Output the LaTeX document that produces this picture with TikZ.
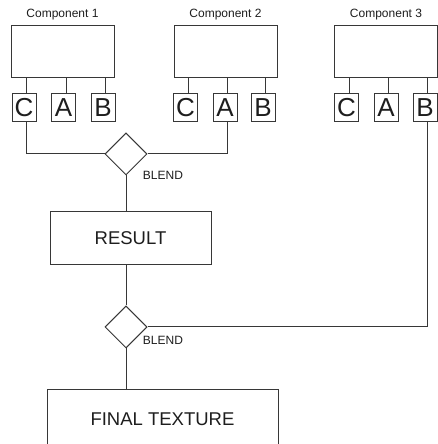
\documentclass[tikz,border=0pt]{standalone}
\usepackage{fontspec}
\setmainfont{Liberation Sans}
\usetikzlibrary{shapes.geometric}
\definecolor{lncol}{RGB}{55,55,55}
\definecolor{txtcol}{RGB}{30,30,30}
\tikzset{
  bigbox/.style={draw=lncol, line width=1pt, rectangle, minimum width=103pt, minimum height=52pt, inner sep=0pt},
  portbox/.style={draw=lncol, line width=1pt, rectangle, minimum width=24pt, minimum height=28pt, inner sep=0pt, font=\fontsize{26}{26}\selectfont, text=txtcol},
  blendbox/.style={draw=lncol, line width=1pt, diamond, minimum width=42pt, minimum height=42pt, inner sep=0pt},
  resbox/.style={draw=lncol, line width=1pt, rectangle, inner sep=0pt, font=\fontsize{18.5}{18.5}\selectfont, text=txtcol},
  lbl/.style={inner sep=0pt, font=\fontsize{12}{12}\selectfont, text=txtcol},
  blbl/.style={inner sep=0pt, font=\fontsize{12}{12}\selectfont, text=txtcol},
  wire/.style={draw=lncol, line width=1pt},
  tick/.style={draw=lncol, line width=1pt}
}
\begin{document}
\begin{tikzpicture}[x=1pt,y=1pt]
\useasboundingbox (0,0) rectangle (438,444);
\clip (0,0) rectangle (438,444);
\fill[white] (0,0) rectangle (438,444);
\node[bigbox] (comp1) at (62.5,392) {};
\node[bigbox] (comp2) at (225.5,392) {};
\node[bigbox] (comp3) at (386,392) {};
\node[lbl] (l1) at (62.5,429) {Component 1};
\node[lbl] (l2) at (225.5,429) {Component 2};
\node[lbl] (l3) at (386,429) {Component 3};
\node[portbox] (c1) at (24,336) {C};
\node[portbox] (a1) at (63.5,336) {A};
\node[portbox] (b1) at (103,336) {B};
\node[portbox] (c2) at (185.5,336) {C};
\node[portbox] (a2) at (225,336) {A};
\node[portbox] (b2) at (263,336) {B};
\node[portbox] (c3) at (346.5,336) {C};
\node[portbox] (a3) at (386,336) {A};
\node[portbox] (b3) at (425,336) {B};
\foreach \pp/\cc in {c1/comp1,a1/comp1,b1/comp1,c2/comp2,a2/comp2,b2/comp2,c3/comp3,a3/comp3,b3/comp3}{
  \draw[tick] ([xshift=2.5pt]\pp.north) -- ([xshift=2.5pt]\pp.north |- \cc.south);
}
\node[blendbox] (d1) at (126,290) {};
\node[blbl] (bl1) at (163,269) {BLEND};
\node[resbox, minimum width=161pt, minimum height=53pt] (res) at (130.5,205.5) {RESULT};
\node[blendbox] (d2) at (126,117) {};
\node[blbl] (bl2) at (163,104) {BLEND};
\node[resbox, minimum width=231pt, minimum height=58pt] (fin) at (162.5,25) {FINAL TEXTURE};
\draw[wire] ([xshift=2.5pt]c1.south) |- (d1.west);
\draw[wire] ([xshift=2.5pt]a2.south) |- (d1.east);
\draw[wire] (d1.south) -- (d1.south |- res.north);
\draw[wire] (d2.north |- res.south) -- (d2.north);
\draw[wire] ([xshift=2.5pt]b3.south) |- (d2.east);
\draw[wire] (d2.south) -- (d2.south |- fin.north);
\end{tikzpicture}
\end{document}
